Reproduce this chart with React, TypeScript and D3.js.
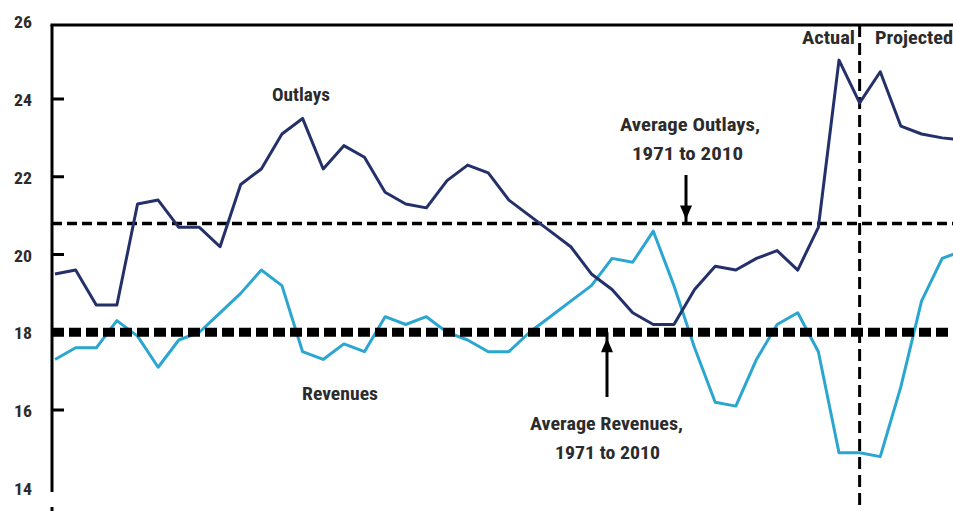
import React from "react";
import * as d3 from "d3";

const years = [1971,1972,1973,1974,1975,1976,1977,1978,1979,1980,1981,1982,1983,1984,1985,1986,1987,1988,1989,1990,1991,1992,1993,1994,1995,1996,1997,1998,1999,2000,2001,2002,2003,2004,2005,2006,2007,2008,2009,2010,2011,2012,2013,2014,2015];
const outlays = [19.5,19.6,18.7,18.7,21.3,21.4,20.7,20.7,20.2,21.8,22.2,23.1,23.5,22.2,22.8,22.5,21.6,21.3,21.2,21.9,22.3,22.1,21.4,21.0,20.6,20.2,19.5,19.1,18.5,18.2,18.2,19.1,19.7,19.6,19.9,20.1,19.6,20.7,25.0,23.9,24.7,23.3,23.1,23.0,22.95];
const revenues = [17.3,17.6,17.6,18.3,17.9,17.1,17.8,18.0,18.5,19.0,19.6,19.2,17.5,17.3,17.7,17.5,18.4,18.2,18.4,18.0,17.8,17.5,17.5,18.0,18.4,18.8,19.2,19.9,19.8,20.6,19.2,17.6,16.2,16.1,17.3,18.2,18.5,17.5,14.9,14.9,14.8,16.6,18.8,19.9,20.1];
const yTicks = [14,16,18,20,22,24,26];
const avgOutlays = 20.8;
const avgRevenues = 18.0;
const lastActualYear = 2010;

const W = 953, H = 511;
const FONT = "'Liberation Sans Narrow', 'Arial Narrow', 'Roboto Condensed', 'Liberation Sans', sans-serif";

export default function App() {
  const x = d3.scaleLinear().domain([1971, 2009]).range([55, 839]);
  const y = d3.scaleLinear().domain([14, 26]).range([487.75, 21.25]);
  const line = d3.line<number>().x((_, i) => x(years[i])).y(d => y(d));
  const axisX = 52;
  const topY = 25;
  const xDiv = x(lastActualYear);
  const yAO = y(avgOutlays);
  const yAR = y(avgRevenues);
  const txt = { fontFamily: FONT, fontWeight: 700, fill: "#2b2b2b" } as const;

  return (
    <svg width={W} height={H} style={{ position: "absolute", left: 0, top: 0, background: "#fff" }}>
      {/* axis frame */}
      <line x1={axisX - 1.5} x2={W} y1={topY} y2={topY} stroke="#000" strokeWidth={3} />
      <line x1={axisX} x2={axisX} y1={topY} y2={492} stroke="#000" strokeWidth={3} />
      <line x1={axisX} x2={axisX} y1={507} y2={H} stroke="#000" strokeWidth={3} />
      {yTicks.filter(t => t < 26 && t > 14).map(t => (
        <line key={"t" + t} x1={axisX} x2={axisX + 12} y1={y(t)} y2={y(t)} stroke="#000" strokeWidth={3} />
      ))}
      {yTicks.map(t => (
        <text key={"l" + t} x={23} y={y(t) + 7} textAnchor="middle" fontSize={17} {...txt} textLength={18} lengthAdjust="spacingAndGlyphs">{t}</text>
      ))}

      {/* reference lines */}
      <line x1={axisX} x2={W} y1={yAO} y2={yAO} stroke="#000" strokeWidth={3.5} strokeDasharray="10 5" />
      <line x1={xDiv} x2={xDiv} y1={topY} y2={H} stroke="#000" strokeWidth={3} strokeDasharray="12 6" />

      {/* series */}
      <path d={line(revenues) || ""} fill="none" stroke="#2aa6d0" strokeWidth={3} strokeLinejoin="round" />
      <path d={line(outlays) || ""} fill="none" stroke="#24306a" strokeWidth={3} strokeLinejoin="round" />

      <line x1={axisX} x2={W} y1={yAR} y2={yAR} stroke="#000" strokeWidth={9} strokeDasharray="12 5" />

      {/* pointers */}
      <line x1={686} x2={686} y1={175} y2={yAO} stroke="#000" strokeWidth={3} />
      <path d={`M680,${yAO - 18} L692,${yAO - 18} L686,${yAO - 4} Z`} fill="#000" />
      <line x1={607} x2={607} y1={yAR} y2={397} stroke="#000" strokeWidth={3} />
      <path d={`M601,${yAR + 20} L613,${yAR + 20} L607,${yAR + 6} Z`} fill="#000" />

      {/* labels */}
      <text x={272} y={101} fontSize={19} {...txt} textLength={58} lengthAdjust="spacingAndGlyphs">Outlays</text>
      <text x={302} y={400} fontSize={19} {...txt} textLength={76} lengthAdjust="spacingAndGlyphs">Revenues</text>
      <text x={620} y={131} fontSize={19} {...txt} textLength={140} lengthAdjust="spacingAndGlyphs">Average Outlays,</text>
      <text x={632} y={160} fontSize={19} {...txt} textLength={111} lengthAdjust="spacingAndGlyphs">1971 to 2010</text>
      <text x={530} y={430} fontSize={19} {...txt} textLength={153} lengthAdjust="spacingAndGlyphs">Average Revenues,</text>
      <text x={555} y={459} fontSize={19} {...txt} textLength={105} lengthAdjust="spacingAndGlyphs">1971 to 2010</text>
      <text x={802} y={44} fontSize={18} {...txt} textLength={53} lengthAdjust="spacingAndGlyphs">Actual</text>
      <text x={875} y={44} fontSize={18} {...txt} textLength={78} lengthAdjust="spacingAndGlyphs">Projected</text>
    </svg>
  );
}
